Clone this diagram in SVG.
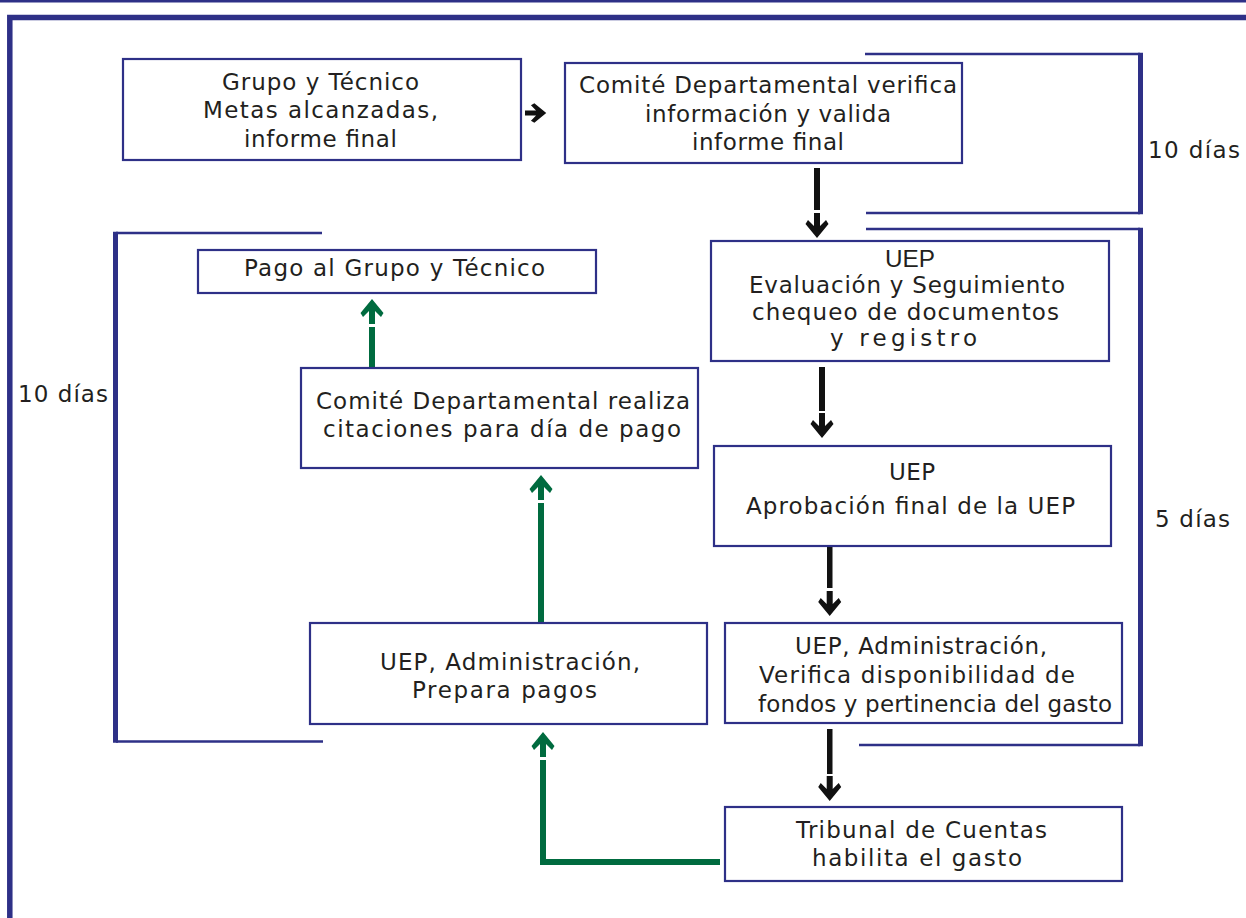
<svg xmlns="http://www.w3.org/2000/svg" width="1246" height="918" viewBox="0 0 1246 918">
<style>
.box{fill:#fff;stroke:#2e3087;stroke-width:2.2}
.br{fill:none;stroke:#2e3087;stroke-width:2.6}
.brv{fill:none;stroke:#2e3087;stroke-width:5}
.t{font-family:"DejaVu Sans","Liberation Sans",sans-serif;font-size:23px;fill:#231f20;text-anchor:middle}
.lb{font-family:"DejaVu Sans","Liberation Sans",sans-serif;font-size:23px;fill:#231f20}
.blk{fill:#111}
.grn{fill:#006b3f}
</style>
<defs>
<path id="hd" d="M-3,0 H3 V13 L9,7 L11.5,11 L0,25 L-11.5,11 L-9,7 L-3,13 Z"/>
</defs>
<rect x="0" y="0" width="1246" height="2.5" fill="#2e3087"/>
<path d="M9.8,918 V17.5 H1246" fill="none" stroke="#2e3087" stroke-width="5.5"/>
<g id="bracket-right-1">
<path class="br" d="M865,54 H1140"/>
<path class="br" d="M866,213 H1140"/>
<path class="brv" d="M1140.5,52.7 V214.3"/>
<text class="lb" x="1148" y="158" textLength="92" lengthAdjust="spacing">10 días</text>
</g>
<g id="bracket-right-2">
<path class="br" d="M866,229 H1140"/>
<path class="br" d="M859,745 H1140"/>
<path class="brv" d="M1140.5,227.7 V746.3"/>
<text class="lb" x="1155" y="527" textLength="75" lengthAdjust="spacing">5 días</text>
</g>
<g id="bracket-left">
<path class="br" d="M116,233 H322"/>
<path class="br" d="M116,741.5 H323"/>
<path class="brv" d="M115.5,231.7 V742.8"/>
<text class="lb" x="18" y="402" textLength="90" lengthAdjust="spacing">10 días</text>
</g>
<g id="connectors">
<rect class="blk" x="814" y="168" width="6" height="42"/>
<use href="#hd" class="blk" transform="translate(817,213)"/>
<rect class="blk" x="819" y="367" width="6" height="44"/>
<use href="#hd" class="blk" transform="translate(822,413)"/>
<rect class="blk" x="827" y="547" width="5.5" height="41"/>
<use href="#hd" class="blk" transform="translate(829.7,591)"/>
<rect class="blk" x="827" y="729" width="5.5" height="45"/>
<use href="#hd" class="blk" transform="translate(829.7,776)"/>
<use href="#hd" class="blk" transform="translate(525,113) rotate(-90) scale(0.85)"/>
<rect class="grn" x="369" y="327" width="6" height="41"/>
<use href="#hd" class="grn" transform="translate(372,324) rotate(180)"/>
<rect class="grn" x="538" y="503" width="6" height="120"/>
<use href="#hd" class="grn" transform="translate(541,500) rotate(180)"/>
<path d="M720,862 H543 V760" fill="none" stroke="#006b3f" stroke-width="6"/>
<use href="#hd" class="grn" transform="translate(543,757) rotate(180)"/>
</g>
<g id="n1">
<rect class="box" x="123" y="59" width="398" height="101"/>
<text class="t" x="320.5" y="90" textLength="197" lengthAdjust="spacing">Grupo y Técnico</text>
<text class="t" x="320.5" y="118" textLength="235" lengthAdjust="spacing">Metas alcanzadas,</text>
<text class="t" x="320.5" y="147" textLength="153" lengthAdjust="spacing">informe final</text>
</g>
<g id="n2">
<rect class="box" x="565" y="63" width="397" height="100"/>
<text class="t" x="768" y="93" textLength="378" lengthAdjust="spacing">Comité Departamental verifica</text>
<text class="t" x="768" y="122" textLength="246" lengthAdjust="spacing">información y valida</text>
<text class="t" x="768" y="150" textLength="152" lengthAdjust="spacing">informe final</text>
</g>
<g id="n3">
<rect class="box" x="711" y="241" width="398" height="120"/>
<text class="t" x="910" y="267" style="font-family:'Liberation Sans',sans-serif;font-size:24px" textLength="50" lengthAdjust="spacingAndGlyphs">UEP</text>
<text class="t" x="907" y="293" textLength="316" lengthAdjust="spacing">Evaluación y Seguimiento</text>
<text class="t" x="905.5" y="320" textLength="307" lengthAdjust="spacing">chequeo de documentos</text>
<text class="t" x="903.5" y="346" textLength="147" lengthAdjust="spacing">y registro</text>
</g>
<g id="n4">
<rect class="box" x="198" y="250" width="398" height="43"/>
<text class="t" x="394.5" y="276" textLength="301" lengthAdjust="spacing">Pago al Grupo y Técnico</text>
</g>
<g id="n5">
<rect class="box" x="301" y="368" width="397" height="100"/>
<text class="t" x="503" y="409" textLength="374" lengthAdjust="spacing">Comité Departamental realiza</text>
<text class="t" x="502" y="437" textLength="358" lengthAdjust="spacing">citaciones para día de pago</text>
</g>
<g id="n6">
<rect class="box" x="714" y="446" width="397" height="100"/>
<text class="t" x="912" y="480" textLength="46" lengthAdjust="spacing">UEP</text>
<text class="t" x="910.5" y="514" textLength="329" lengthAdjust="spacing">Aprobación final de la UEP</text>
</g>
<g id="n7">
<rect class="box" x="725" y="623" width="397" height="100"/>
<text class="t" x="921" y="654" textLength="252" lengthAdjust="spacing">UEP, Administración,</text>
<text class="t" x="917" y="683" textLength="316" lengthAdjust="spacing">Verifica disponibilidad de</text>
<text class="t" x="935" y="712" textLength="354" lengthAdjust="spacing">fondos y pertinencia del gasto</text>
</g>
<g id="n8">
<rect class="box" x="310" y="623" width="397" height="101"/>
<text class="t" x="510" y="670" textLength="260" lengthAdjust="spacing">UEP, Administración,</text>
<text class="t" x="504.5" y="698" textLength="185" lengthAdjust="spacing">Prepara pagos</text>
</g>
<g id="n9">
<rect class="box" x="725" y="807" width="397" height="74"/>
<text class="t" x="921.5" y="838" textLength="251" lengthAdjust="spacing">Tribunal de Cuentas</text>
<text class="t" x="917" y="866" textLength="210" lengthAdjust="spacing">habilita el gasto</text>
</g>
</svg>
